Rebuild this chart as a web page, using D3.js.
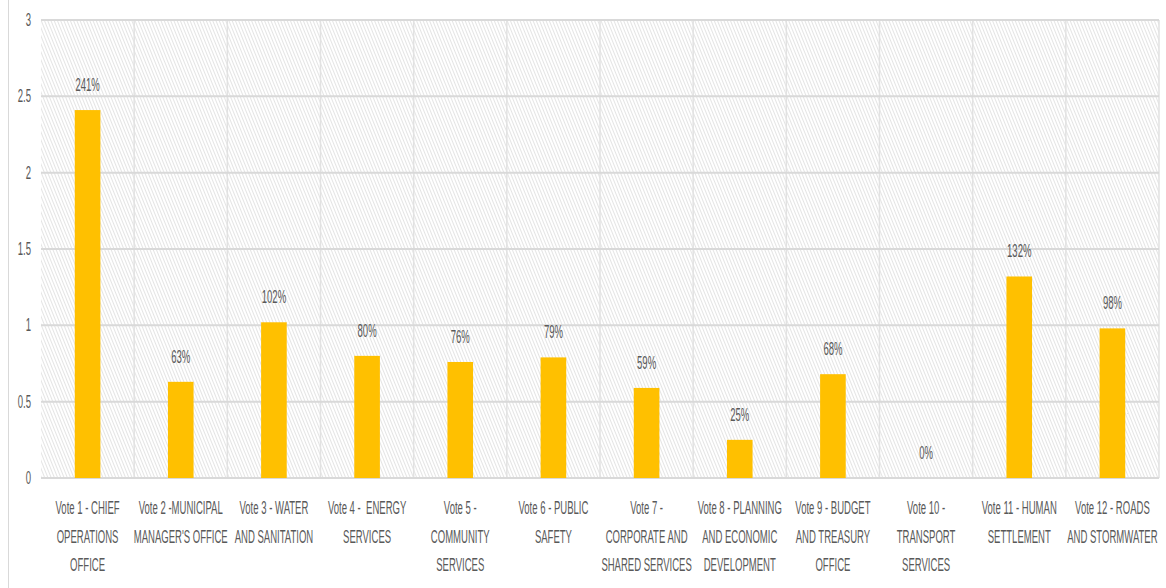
<!DOCTYPE html>
<html>
<head>
<meta charset="utf-8">
<script src="https://cdn.jsdelivr.net/npm/d3@7"></script>
<style>
  html, body { margin: 0; padding: 0; background: #fff; }
  svg { display: block; }
  text { font-family: "Liberation Sans", Arial, sans-serif; fill: #595959; }
</style>
</head>
<body>
<svg id="chart" width="1166" height="588"></svg>
<script>
const categories = [
  "Vote 1 - CHIEF\nOPERATIONS\nOFFICE",
  "Vote 2 -MUNICIPAL\nMANAGER'S OFFICE",
  "Vote 3 - WATER\nAND SANITATION",
  "Vote 4 -  ENERGY\nSERVICES",
  "Vote 5 -\nCOMMUNITY\nSERVICES",
  "Vote 6 - PUBLIC\nSAFETY",
  "Vote 7 -\nCORPORATE AND\nSHARED SERVICES",
  "Vote 8 - PLANNING\nAND ECONOMIC\nDEVELOPMENT",
  "Vote 9 - BUDGET\nAND TREASURY\nOFFICE",
  "Vote 10 -\nTRANSPORT\nSERVICES",
  "Vote 11 - HUMAN\nSETTLEMENT",
  "Vote 12 - ROADS\nAND STORMWATER"
];
const values = [2.41, 0.63, 1.02, 0.80, 0.76, 0.79, 0.59, 0.25, 0.68, 0.0, 1.32, 0.98];
const valueLabels = ["241%", "63%", "102%", "80%", "76%", "79%", "59%", "25%", "68%", "0%", "132%", "98%"];
const yTicks = [0, 0.5, 1, 1.5, 2, 2.5, 3];

const svg = d3.select("#chart");
const pLeft = 41, pRight = 1159, pTop = 20, pBottom = 478;
const SX = 0.53;

const x = d3.scaleBand().domain(categories).range([pLeft, pRight]).paddingInner(0.725).paddingOuter(0.3625);
const slot = d3.scaleBand().domain(categories).range([pLeft, pRight]).padding(0);
const y = d3.scaleLinear().domain([0, 3]).range([pBottom, pTop]);

svg.append("line").attr("x1", 8.5).attr("x2", 8.5).attr("y1", 0).attr("y2", 588)
  .attr("stroke", "#d9d9d9").attr("stroke-width", 1);

const defs = svg.append("defs");
const pat = defs.append("pattern").attr("id", "hatch").attr("patternUnits", "userSpaceOnUse")
  .attr("width", 3).attr("height", 3).attr("patternTransform", "rotate(-22)");
pat.append("rect").attr("width", 3).attr("height", 3).attr("fill", "#ffffff");
pat.append("line").attr("x1", 0.5).attr("x2", 0.5).attr("y1", 0).attr("y2", 3)
  .attr("stroke", "#e4e4e4").attr("stroke-width", 1);

svg.append("rect").attr("x", pLeft).attr("y", pTop).attr("width", pRight - pLeft).attr("height", pBottom - pTop)
  .attr("fill", "url(#hatch)");

const bounds = categories.map(c => slot(c)).slice(1).concat([pRight]);
svg.append("g").selectAll("line").data(bounds).join("line")
  .attr("x1", d => d).attr("x2", d => d).attr("y1", pTop).attr("y2", pBottom)
  .attr("stroke", "#e2e2e2").attr("stroke-width", 1.5);

svg.append("g").selectAll("line").data(yTicks).join("line")
  .attr("x1", pLeft).attr("x2", pRight).attr("y1", d => y(d)).attr("y2", d => y(d))
  .attr("stroke", "#d9d9d9").attr("stroke-width", 2);

svg.append("g").selectAll("text").data(yTicks).join("text")
  .attr("transform", d => `translate(31,${y(d) + 6}) scale(${SX},1)`)
  .attr("text-anchor", "end").attr("font-size", 18)
  .text(d => d3.format("")(d));

svg.append("g").selectAll("rect").data(values).join("rect")
  .attr("x", (d, i) => x(categories[i]))
  .attr("y", d => y(d))
  .attr("width", x.bandwidth())
  .attr("height", d => y(0) - y(d))
  .attr("fill", "#FFC000");

svg.append("g").selectAll("text").data(values).join("text")
  .attr("transform", (d, i) => `translate(${x(categories[i]) + x.bandwidth() / 2},${y(d) - 19}) scale(${SX},1)`)
  .attr("text-anchor", "middle").attr("font-size", 18)
  .text((d, i) => valueLabels[i]);

const cg = svg.append("g").selectAll("g").data(categories).join("g");
cg.each(function(c) {
  const lines = c.split("\n");
  const cx = slot(c) + slot.bandwidth() / 2;
  d3.select(this).selectAll("text").data(lines).join("text")
    .attr("transform", (l, j) => `translate(${cx},${514 + j * 28.5}) scale(${SX},1)`)
    .attr("text-anchor", "middle").attr("font-size", 18)
    .attr("xml:space", "preserve")
    .text(l => l);
});
</script>
</body>
</html>
